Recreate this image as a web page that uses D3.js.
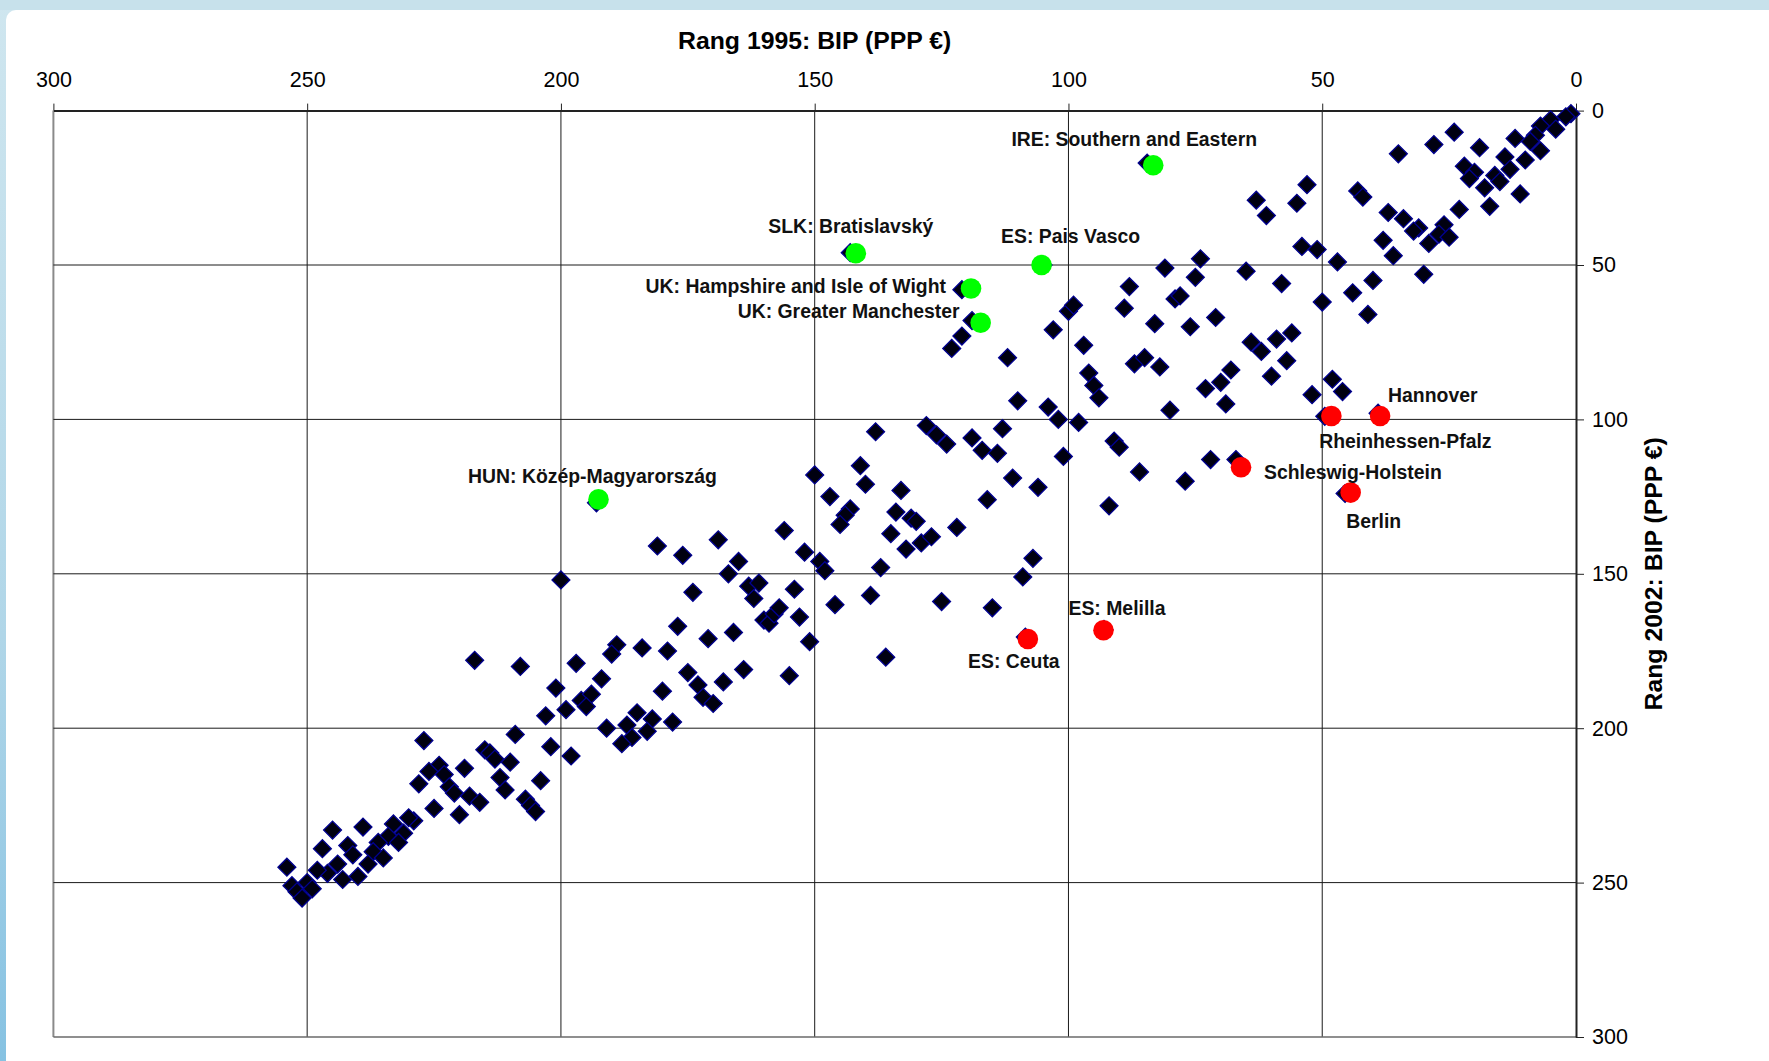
<!DOCTYPE html>
<html>
<head>
<meta charset="utf-8">
<script src="https://cdn.jsdelivr.net/npm/d3@7"></script>
<style>
  body { margin: 0; background: #fff; }
  text { font-family: "Liberation Sans", Arial, Helvetica, sans-serif; }
</style>
</head>
<body>
<div id="chart"></div>
<script>
// Rank 1995 (x) and rank 2002 (y) of every region
var rank1995 = [
  217,208,197,201,199,196,203,209,202,198,227,215,214,213,210,212,211,204,207,206,
  205,219,224,226,223,228,222,221,218,216,225,220,229,230,233,231,234,232,236,237,
  235,238,239,245,247,242,241,244,246,248,243,240,254,253,252,251,250,249,
  193,181,176,169,165,167,200,174,163,161,162,160,159,158,157,177,171,166,189,190,
  184,179,175,173,172,170,168,164,180,192,194,195,185,187,182,178,183,186,188,191,
  156,154,153,151,155,152,149,148,150,147,143,144,145,141,140,138,133,134,131,130,
  135,132,129,127,122,137,146,139,125,115,136,109,107,116,111,106,101,128,126,124,
  119,117,114,113,110,104,102,123,121,112,103,108.5,
  100,99,97,96,95,94,98,89,88,83,81,75,74,79,78,76,71,87,85,82,
  80,73,70,68,69,65,64,62,59,56,57,60,58,54,51,47,50,44,41,40,
  72,77,86,91,90,92,52,48,46,49.5,39,67,45.5,
  63,61,55,
  1,2,5,4,7,8,9,12,7,10,14,13,11,19,24,28,35,22,20,21,
  16,15,18,17,23,26,27,25,29,31,32,34,37,43,42,38,36,53,30,
  84.5,143,121,119,105,93
];
var rank2002 = [
  178,180,179,187,194,191,196,202,206,209,204,207,208,210,211,216,220,217,223,225,
  227,213,212,214,215,218,219,221,222,224,226,228,230,229,231,234,235,237,237,240,
  242,244,232,233,239,238,241,244,247,246,249,248,245,251,253,255,250,252,
  127,141,144,139,146,150,152,156,154,153,158,165,166,163,161,167,171,169,173,176,
  174,175,182,186,190,192,185,181,188,184,189,193,195,199,197,198,201,203,205,200,
  136,155,164,172,183,143,146,149,118,125,129,131,134,115,121,104,123,130,132,133,
  137,142,140,138,135,148,160,157,159,161,177,151,145,126,119,122,112,102,105,108,
  106,110,111,103,94,96,100,77,73,80,71,170.5,
  65,63,76,85,89,93,101,64,57,69,51,54,48,61,60,70,67,82,80,83,
  97,90,88,84,95,52,75,78,74,72,81,86,56,44,45,49,62,59,66,55,
  113,120,117,107,109,128,92,87,91,99,98,113,124,
  29,34,30,
  1,2,3,6,5,8,10,9,13,16,15,19,27,12,7,11,14,18,20,22,
  21,23,25,31,32,37,40,41,43,38,39,35,33,26,28,42,47,24,53,
  17,46,58,68,50,168
];

// Highlighted regions
var highlightNames = [
  "IRE: Southern and Eastern", "SLK: Bratislavský", "ES: Pais Vasco",
  "UK: Hampshire and Isle of Wight", "UK: Greater Manchester", "HUN: Közép-Magyarország",
  "Hannover", "Rheinhessen-Pfalz", "Schleswig-Holstein", "Berlin", "ES: Melilla", "ES: Ceuta"
];
var highlightRank1995 = [83.3, 141.9, 105.3, 119.2, 117.3, 192.6, 38.6, 48.2, 66, 44.4, 93.1, 108];
var highlightRank2002 = [17.7, 46.2, 50, 57.6, 68.7, 125.9, 98.9, 98.9, 115.5, 123.7, 168.3, 171.1];
var highlightGroup = ["up", "up", "up", "up", "up", "up", "down", "down", "down", "down", "down", "down"];

var xTicks = [300, 250, 200, 150, 100, 50, 0];
var yTicks = [0, 50, 100, 150, 200, 250, 300];

var xTitle = "Rang 1995: BIP (PPP €)";
var yTitle = "Rang 2002: BIP (PPP €)";

// label placement next to each highlighted point (pixels)
var labelPlace = {
  "IRE: Southern and Eastern": [-19, -19, "middle"],
  "SLK: Bratislavský": [-5, -20, "middle"],
  "ES: Pais Vasco": [29, -22, "middle"],
  "UK: Hampshire and Isle of Wight": [-25, 5, "end"],
  "UK: Greater Manchester": [-21, -5, "end"],
  "HUN: Közép-Magyarország": [-6, -16, "middle"],
  "Hannover": [8, -14, "start"],
  "Rheinhessen-Pfalz": [74, 32, "middle"],
  "Schleswig-Holstein": [23, 12, "start"],
  "Berlin": [23, 35, "middle"],
  "ES: Melilla": [-35, -15, "start"],
  "ES: Ceuta": [-14, 29, "middle"]
};

var svgWidth = 1769;
var svgHeight = 1061;
var plot = { left: 53.4, right: 1576, top: 110.6, bottom: 1037 };

var svg = d3.select("#chart")
  .append("svg")
  .attr("width", svgWidth)
  .attr("height", svgHeight);

// background frame: light blue band top and left, white panel
var defs = svg.append("defs");
var bg = defs.append("linearGradient").attr("id", "bgGrad")
  .attr("x1", 0).attr("y1", 0).attr("x2", 0).attr("y2", 1);
bg.append("stop").attr("offset", "0%").attr("stop-color", "#cfe6ef");
bg.append("stop").attr("offset", "60%").attr("stop-color", "#b0d6e8");
bg.append("stop").attr("offset", "100%").attr("stop-color", "#86c2e2");

svg.append("rect").attr("width", svgWidth).attr("height", svgHeight).attr("fill", "url(#bgGrad)");
svg.append("rect").attr("width", svgWidth).attr("height", 10).attr("fill", "#c7e1eb");
svg.append("rect")
  .attr("x", 6).attr("y", 10)
  .attr("width", svgWidth + 40).attr("height", svgHeight + 40)
  .attr("rx", 10)
  .attr("fill", "#ffffff");

var x = d3.scaleLinear().domain([300, 0]).range([plot.left, plot.right]);
var y = d3.scaleLinear().domain([0, 300]).range([plot.top, plot.bottom]);

// grid lines
var grid = svg.append("g");
grid.selectAll(".vgrid")
  .data(xTicks.filter(d => d !== 0))
  .enter().append("line")
  .attr("x1", d => x(d)).attr("x2", d => x(d))
  .attr("y1", plot.top).attr("y2", plot.bottom)
  .attr("stroke", d => d === 300 ? "#8a8a8a" : "#1a1a1a")
  .attr("stroke-width", d => d === 300 ? 2 : 1);
grid.selectAll(".hgrid")
  .data(yTicks.filter(d => d !== 0))
  .enter().append("line")
  .attr("x1", plot.left).attr("x2", plot.right)
  .attr("y1", d => y(d)).attr("y2", d => y(d))
  .attr("stroke", d => d === 300 ? "#6a6a6a" : "#1a1a1a")
  .attr("stroke-width", d => d === 300 ? 1.5 : 1);

// axes
var topAxis = d3.axisTop(x).tickValues(xTicks).tickSize(7).tickPadding(17).tickSizeOuter(0);
var rightAxis = d3.axisRight(y).tickValues(yTicks).tickSize(8).tickPadding(8).tickSizeOuter(0);

var gTop = svg.append("g")
  .attr("transform", `translate(0, ${plot.top})`)
  .call(topAxis);
var gRight = svg.append("g")
  .attr("transform", `translate(${plot.right}, 0)`)
  .call(rightAxis);

[gTop, gRight].forEach(function(g) {
  g.select(".domain").attr("stroke", "#222").attr("stroke-width", 2);
  g.selectAll(".tick line").attr("stroke", "#222").attr("stroke-width", 1);
  g.selectAll(".tick text")
    .attr("fill", "#000")
    .style("font-family", "'Liberation Sans', Arial, sans-serif")
    .style("font-size", "21.5px");
});

// regions as diamonds
var diamond = d3.symbol().type(d3.symbolSquare).size(160);
svg.append("g").selectAll("path")
  .data(rank1995)
  .enter().append("path")
  .attr("d", diamond)
  .attr("transform", (d, i) => `translate(${x(d)}, ${y(rank2002[i])}) rotate(45)`)
  .attr("fill", "#000010")
  .attr("stroke", "#000090")
  .attr("stroke-width", 1.3);

// highlighted regions
var hl = svg.append("g");
hl.selectAll("circle")
  .data(highlightNames)
  .enter().append("circle")
  .attr("cx", (d, i) => x(highlightRank1995[i]))
  .attr("cy", (d, i) => y(highlightRank2002[i]))
  .attr("r", 10.3)
  .attr("fill", (d, i) => highlightGroup[i] === "up" ? "#00ff00" : "#ff0000");

hl.selectAll("text")
  .data(highlightNames)
  .enter().append("text")
  .attr("x", (d, i) => x(highlightRank1995[i]) + labelPlace[d][0])
  .attr("y", (d, i) => y(highlightRank2002[i]) + labelPlace[d][1])
  .attr("text-anchor", d => labelPlace[d][2])
  .style("font-size", "19.4px")
  .style("font-weight", "bold")
  .attr("fill", "#111")
  .text(d => d);

// axis titles
svg.append("text")
  .attr("x", (plot.left + plot.right) / 2)
  .attr("y", 48.5)
  .attr("text-anchor", "middle")
  .style("font-size", "24.8px")
  .style("font-weight", "bold")
  .text(xTitle);

svg.append("text")
  .attr("transform", `translate(1662, ${(plot.top + plot.bottom) / 2}) rotate(-90)`)
  .attr("text-anchor", "middle")
  .style("font-size", "24.8px")
  .style("font-weight", "bold")
  .text(yTitle);
</script>
</body>
</html>
